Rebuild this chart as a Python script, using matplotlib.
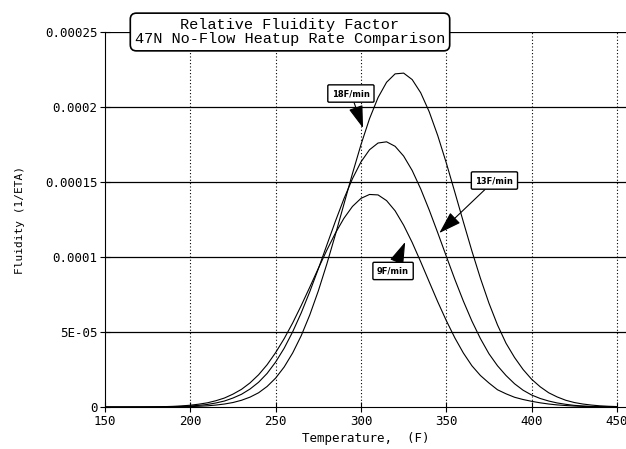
import matplotlib
matplotlib.use('Agg')
import matplotlib.pyplot as plt
import numpy as np

# valores (fluidez en unidades de 1e-5), cada 5 F de 150 a 450
temp = list(range(150, 451, 5))
f18 = [0, 0, 0, 0, 0, 0.001, 0.002, 0.004, 0.007, 0.015, 0.03, 0.05, 0.08, 0.13, 0.2, 0.3,
       0.45, 0.66, 0.95, 1.37, 1.93, 2.67, 3.61, 4.76, 6.14, 7.74, 9.54, 11.49, 13.52, 15.56,
       17.49, 19.22, 20.63, 21.65, 22.21, 22.26, 21.83, 20.95, 19.68, 18.09, 16.27, 14.32,
       12.34, 10.4, 8.58, 6.92, 5.47, 4.25, 3.3, 2.5, 1.85, 1.35, 0.95, 0.67, 0.45, 0.3,
       0.2, 0.13, 0.08, 0.05, 0.03]
f13 = [0, 0, 0, 0.001, 0.002, 0.004, 0.007, 0.013, 0.021, 0.04, 0.07, 0.11, 0.17, 0.27, 0.4,
       0.6, 0.85, 1.2, 1.65, 2.24, 3.0, 3.92, 5.02, 6.28, 7.69, 9.21, 10.8, 12.38, 13.88,
       15.22, 16.34, 17.15, 17.6, 17.68, 17.38, 16.73, 15.77, 14.54, 13.13, 11.61, 10.05,
       8.51, 7.06, 5.73, 4.56, 3.55, 2.75, 2.1, 1.55, 1.12, 0.8, 0.57, 0.4, 0.27, 0.18,
       0.11, 0.07, 0.04, 0.025, 0.015, 0.01]
f9 = [0, 0.001, 0.002, 0.003, 0.005, 0.009, 0.016, 0.027, 0.045, 0.075, 0.12, 0.19, 0.28,
      0.42, 0.6, 0.86, 1.18, 1.61, 2.15, 2.82, 3.63, 4.56, 5.61, 6.77, 7.99, 9.24, 10.46,
      11.59, 12.58, 13.37, 13.91, 14.17, 14.14, 13.76, 13.08, 12.12, 10.97, 9.68, 8.34,
      7.01, 5.76, 4.61, 3.6, 2.75, 2.1, 1.6, 1.15, 0.88, 0.65, 0.5, 0.38, 0.28, 0.2, 0.14,
      0.1, 0.065, 0.04, 0.025, 0.015, 0.01, 0.005]

xticks = [150, 200, 250, 300, 350, 400, 450]
yticks = [0, 5e-05, 0.0001, 0.00015, 0.0002, 0.00025]
yticklabels = ['0', '5E-05', '0.0001', '0.00015', '0.0002', '0.00025']

# etiquetas: texto, punto de la flecha (x, y*1e-5), posicion del texto
etiquetas = [('18F/min', (301.2, 18.6), (294.1, 20.9)),
             ('13F/min', (345.9, 11.6), (378.2, 15.1)),
             ('9F/min', (325.9, 11.0), (318.8, 9.07))]

fig = plt.figure(figsize=(6.26, 4.49), dpi=100)
ax = fig.add_axes([105/626, 0.0935, 521/626, 0.8352])

t = np.array(temp)
for serie in (f18, f13, f9):
    ax.plot(t, np.array(serie)*1e-5, color='black', lw=0.8)

ax.set_xlim(150, 455.3)
ax.set_ylim(0, 0.00025)
ax.set_xticks(xticks)
ax.set_yticks(yticks)
ax.set_yticklabels(yticklabels)
ax.tick_params(direction='inout', length=7, width=0.8, labelsize=9, pad=2)
for lab in ax.get_xticklabels() + ax.get_yticklabels():
    lab.set_family('DejaVu Sans Mono')

for y in yticks[1:]:
    ax.axhline(y, color='black', lw=0.9, zorder=0)
for x in xticks[1:]:
    ax.axvline(x, color='black', lw=0.8, ls=(0, (1, 2)), zorder=0)

ax.spines['top'].set_visible(False)
ax.spines['right'].set_visible(False)

ax.set_xlabel('Temperature,  (F)', family='DejaVu Sans Mono', fontsize=9, labelpad=3)
ax.set_ylabel('Fluidity (1/ETA)', family='DejaVu Sans Mono', fontsize=8, labelpad=14)

for texto, punta, pos in etiquetas:
    ax.annotate(texto, xy=(punta[0], punta[1]*1e-5), xytext=(pos[0], pos[1]*1e-5),
                ha='center', va='center', fontsize=6, fontweight='bold',
                bbox=dict(boxstyle='round,pad=0.5,rounding_size=0.15', fc='white', ec='black', lw=1),
                arrowprops=dict(arrowstyle='-|>,head_length=1.4,head_width=0.45', color='black',
                                lw=0.8, shrinkA=0, shrinkB=0, mutation_scale=10))

fig.text(290/626, 1 - 32/449, 'Relative Fluidity Factor\n47N No-Flow Heatup Rate Comparison',
         ha='center', va='center', family='Liberation Mono', fontsize=11, linespacing=1.05,
         bbox=dict(boxstyle='round,pad=0.3,rounding_size=0.4', fc='white', ec='black', lw=1.2))

fig.savefig('out.png', dpi=100)
